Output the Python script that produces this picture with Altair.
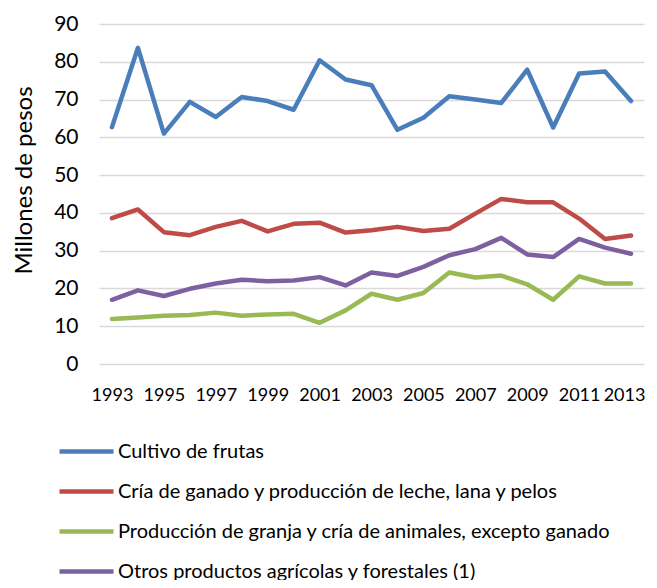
import altair as alt
import pandas as pd

years = list(range(1993, 2014))
series_names = [
    "Cultivo de frutas",
    "Cría de ganado y producción de leche, lana y pelos",
    "Producción de granja y cría de animales, excepto ganado",
    "Otros productos agrícolas y forestales (1)",
]
frutas = [62.7, 83.7, 61.0, 69.4, 65.4, 70.7, 69.6, 67.3, 80.4, 75.3, 73.8,
          62.0, 65.2, 70.9, 70.0, 69.1, 77.9, 62.6, 76.9, 77.4, 69.6]
ganado = [38.6, 40.9, 34.9, 34.1, 36.3, 37.9, 35.1, 37.1, 37.4, 34.8, 35.4,
          36.3, 35.2, 35.8, 39.8, 43.7, 42.8, 42.8, 38.5, 33.1, 34.0]
granja = [11.9, 12.3, 12.8, 13.0, 13.6, 12.8, 13.1, 13.3, 10.9, 14.2, 18.6,
          17.0, 18.8, 24.2, 22.9, 23.4, 21.1, 17.0, 23.2, 21.3, 21.3]
otros = [17.0, 19.5, 18.0, 19.9, 21.3, 22.3, 21.9, 22.1, 23.0, 20.8, 24.2,
         23.3, 25.7, 28.8, 30.4, 33.4, 29.0, 28.3, 33.1, 30.8, 29.2]
colors = ["#4a7ebb", "#be4b48", "#98b954", "#7d60a0"]
x_ticks = list(range(1993, 2014, 2))

rows = []
for name, vals in zip(series_names, [frutas, ganado, granja, otros]):
    for y, v in zip(years, vals):
        rows.append({"Año": y, "Serie": name, "Valor": v})
df = pd.DataFrame(rows)

FONT = "Lato"

chart = alt.Chart(df).mark_line(strokeWidth=4.5, strokeCap="round", strokeJoin="round").encode(
    x=alt.X("Año:Q",
            scale=alt.Scale(domain=[1992.5, 2013.5], nice=False, zero=False),
            axis=alt.Axis(values=x_ticks, format="d", title=None, grid=False,
                          domain=False, ticks=False, labelPadding=22,
                          labelOffset=alt.ExprRef(expr="datum.value == 2013 ? -7 : 0"),
                          labelFontSize=18, labelFont=FONT, labelColor="#000000",
                          labelOverlap=False, labelFlush=False)),
    y=alt.Y("Valor:Q",
            scale=alt.Scale(domain=[0, 90], nice=False),
            axis=alt.Axis(values=list(range(0, 91, 10)), title="Millones de pesos",
                          grid=True, gridColor="#d9d9d9", gridWidth=1.5,
                          domain=False, ticks=False, tickSize=0, labelPadding=21,
                          labelFontSize=21, labelFont=FONT, labelColor="#000000",
                          titleFontSize=24, titleFont=FONT, titleFontWeight="normal",
                          titleColor="#000000", titleX=-75, titleY=156,
                          titleAngle=-90, titleBaseline="middle", titleAlign="center")),
    color=alt.Color("Serie:N",
                    scale=alt.Scale(domain=series_names, range=colors),
                    sort=series_names,
                    legend=alt.Legend(title=None, orient="none", legendX=-42, legendY=398,
                                      direction="vertical", symbolType="stroke",
                                      symbolSize=2916, symbolStrokeWidth=4.5,
                                      rowPadding=-10.5, padding=0, labelOffset=2,
                                      labelFontSize=20, labelFont=FONT,
                                      labelColor="#000000", labelLimit=600)),
).properties(
    width=545, height=340,
    autosize=alt.AutoSizeParams(type="none"),
    padding={"left": 91, "top": 16, "right": 3, "bottom": 216},
).configure_view(stroke=None)

chart.save("out.html", embed_options={"renderer": "svg", "actions": False})
